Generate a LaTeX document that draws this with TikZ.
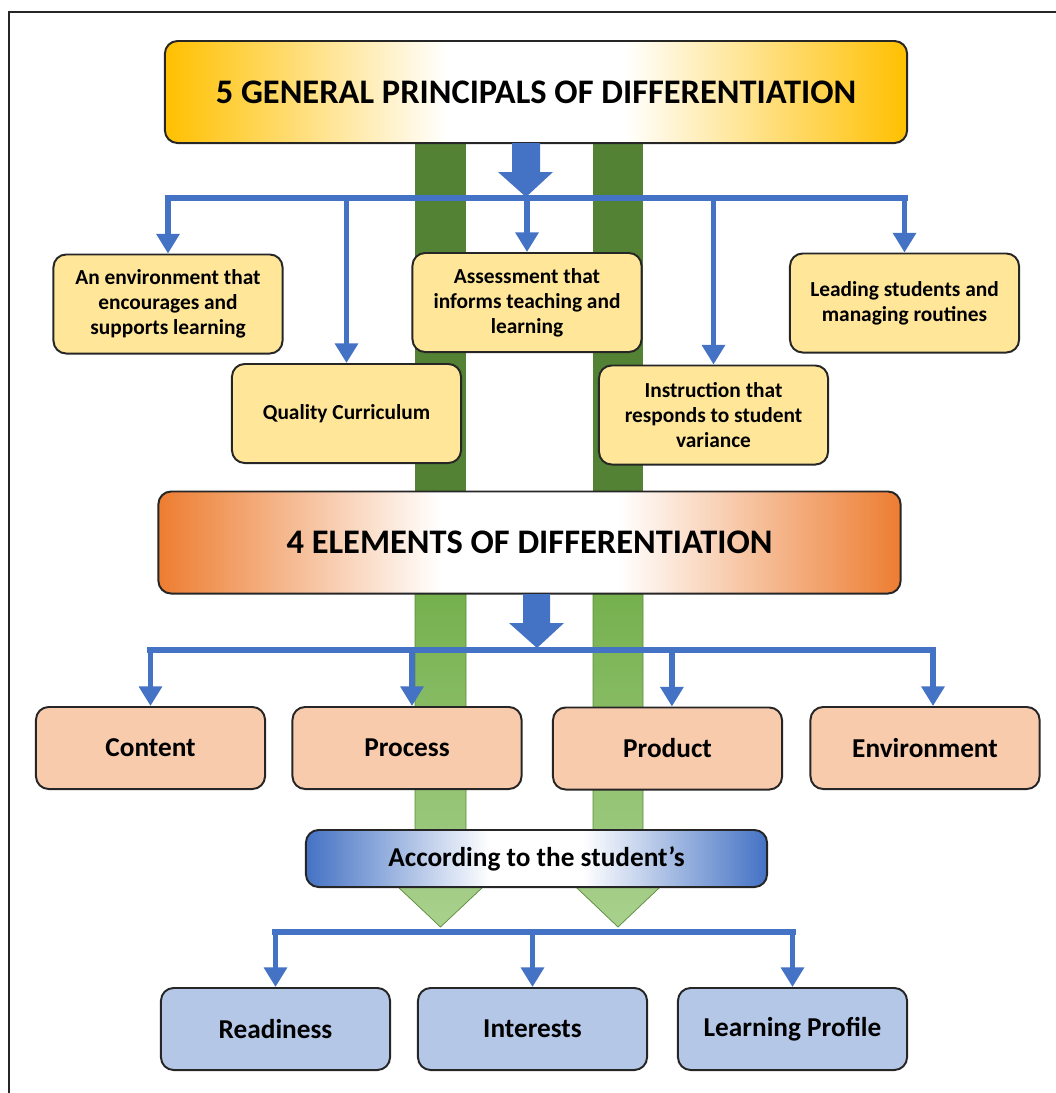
\documentclass[tikz,border=0pt]{standalone}
\usepackage{fontspec}
\setmainfont{Carlito}
\usetikzlibrary{arrows.meta}
\definecolor{lineblue}{HTML}{4472C4}
\definecolor{goldhead}{HTML}{FFC000}
\definecolor{orangehead}{HTML}{ED7D31}
\definecolor{principle}{HTML}{FFE699}
\definecolor{element}{HTML}{F8CBAD}
\definecolor{student}{HTML}{B4C7E7}
\definecolor{bardark}{HTML}{548235}
\definecolor{barmid}{HTML}{70AD47}
\definecolor{barlight}{HTML}{A9D18E}
%% edge colour, white band in the middle
\pgfdeclarehorizontalshading{goldfade}{100bp}{color(0bp)=(goldhead); color(25bp)=(goldhead); color(44bp)=(white); color(56bp)=(white); color(75bp)=(goldhead); color(100bp)=(goldhead)}
\pgfdeclarehorizontalshading{orangefade}{100bp}{color(0bp)=(orangehead); color(25bp)=(orangehead); color(44bp)=(white); color(56bp)=(white); color(75bp)=(orangehead); color(100bp)=(orangehead)}
\pgfdeclarehorizontalshading{bluefade}{100bp}{color(0bp)=(lineblue); color(25bp)=(lineblue); color(45bp)=(white); color(55bp)=(white); color(75bp)=(lineblue); color(100bp)=(lineblue)}
\tikzset{
  roundbox/.style={draw=black!85, line width=1.4pt, rounded corners=9pt, align=center},
  headbox/.style={roundbox, minimum width=18.55cm, minimum height=2.55cm,
    font=\fontsize{24.5}{29}\selectfont\bfseries},
  principlebox/.style={roundbox, fill=principle, minimum width=5.725cm, minimum height=2.475cm,
    font=\fontsize{15.2}{17.8}\selectfont\bfseries},
  elementbox/.style={roundbox, fill=element, minimum width=5.725cm, minimum height=2.05cm,
    font=\fontsize{19.4}{23}\selectfont\bfseries},
  studentbox/.style={elementbox, fill=student},
  bus/.style={lineblue, line width=4.5pt, line cap=rect},
  branch/.style={lineblue, line width=4pt, -{Triangle[width=16pt,length=14pt]}},
  blockarrow/.style={fill=lineblue},
  greenbar/.style={top color=barmid, bottom color=barlight, draw=barmid!80!black, line width=0.5pt}
}
\begin{document}
\begin{tikzpicture}[x=0.025cm,y=-0.025cm]
    \path[use as bounding box] (0,0) rectangle (1055,1093);
    %% frame
    \draw[line width=1.4pt,black!85] (9,1100) -- (9,12) -- (1070,12);
    %% green bars behind everything
    \fill[bardark] (415,130) rectangle (466,500);
    \fill[bardark] (593,130) rectangle (643,500);
    \path[greenbar] (415,560) -- (466,560) -- (466,870) -- (501,870) -- (440.5,927) -- (380,870) -- (415,870) -- cycle;
    \path[greenbar] (593,560) -- (643,560) -- (643,870) -- (678,870) -- (618,927) -- (558,870) -- (593,870) -- cycle;
    %% principles
    \node[headbox, shading=goldfade] (gp) at (536,92) {5 GENERAL PRINCIPALS OF DIFFERENTIATION};
    \node[principlebox] (env) at (168,304) {An environment that\\encourages and\\supports learning};
    \node[principlebox] (qc) at (346.5,413.5) {Quality Curriculum};
    \node[principlebox] (assess) at (527,302.5) {Assessment that\\informs teaching and\\learning};
    \node[principlebox] (instr) at (713.5,415) {Instruction that\\responds to student\\variance};
    \node[principlebox] (lead) at (904.5,303) {Leading students and\\managing routines};
    %% elements
    \node[headbox, shading=orangefade] (el) at (529.5,542.5) {4 ELEMENTS OF DIFFERENTIATION};
    \node[elementbox] (content) at (150.5,748) {Content};
    \node[elementbox] (process) at (407,748) {Process};
    \node[elementbox] (product) at (667.5,748.5) {Product};
    \node[elementbox] (environment) at (925,748) {Environment};
    %% student
    \node[roundbox, minimum width=11.525cm, minimum height=1.425cm, font=\fontsize{19.4}{23}\selectfont\bfseries,
      shading=bluefade] (acc) at (536.5,858.5) {According to the student's};
    \node[studentbox] (ready) at (275.5,1029) {Readiness};
    \node[studentbox] (interest) at (532.5,1029) {Interests};
    \node[studentbox] (profile) at (792.5,1029) {Learning Profile};
    %% big blue arrows
    \fill[blockarrow] (512,143) -- (540,143) -- (540,172) -- (553,172) -- (526,197) -- (498,172) -- (512,172) -- cycle;
    \fill[blockarrow] (523,594) -- (550,594) -- (550,623) -- (564,623) -- (537,648) -- (509,623) -- (523,623) -- cycle;
    %% connectors
    \coordinate (bus1) at (0,198);
    \coordinate (bus2) at (0,650);
    \coordinate (bus3) at (0,932);
    \draw[bus] (env.north |- bus1) -- (lead.north |- bus1);
    \foreach \b in {env,qc,assess,instr,lead}
      \draw[branch] (\b.north |- bus1) -- (\b.north);
    \draw[bus] (content.north |- bus2) -- ([xshift=0.2cm]environment.north |- bus2);
    \foreach \b/\s in {content/0,process/0.125,product/0.11,environment/0.2}
      \draw[branch] ([xshift=\s cm]\b.north |- bus2) -- ([xshift=\s cm]\b.north);
    \draw[bus] (ready.north |- bus3) -- (profile.north |- bus3);
    \foreach \b in {ready,interest,profile}
      \draw[branch] (\b.north |- bus3) -- (\b.north);
\end{tikzpicture}
\end{document}
